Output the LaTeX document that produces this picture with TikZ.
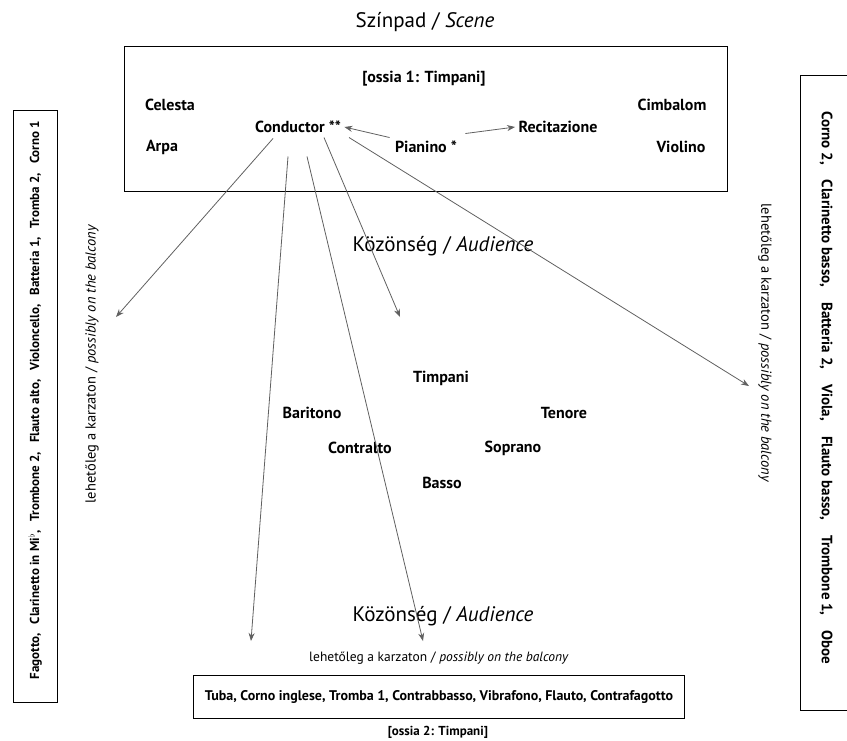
\documentclass[tikz,border=0pt]{standalone}
\usepackage{fontspec}
\setmainfont{PT Sans}
\usetikzlibrary{arrows.meta}
\newcommand{\gapL}{\hspace{9pt}}
\newcommand{\gapR}{\hspace{15pt}}
\tikzset{
  instr/.style={font=\bfseries\fontsize{16}{18}\selectfont},
  side/.style={font=\bfseries\fontsize{13}{15}\selectfont},
  aud/.style={font=\fontsize{21}{24}\selectfont},
  note/.style={font=\fontsize{13.5}{15}\selectfont},
  arr/.style={draw=gray!75!black, line width=0.8pt, -{Stealth[length=8pt,width=6pt]}},
  frame/.style={draw, line width=1pt},
}
\begin{document}
\begin{tikzpicture}[x=1pt,y=-1pt]
  \useasboundingbox (0,0) rectangle (847,740);

  % stage
  \node[font=\fontsize{21}{24}\selectfont] (scene) at (425,22) {Színpad / \textit{Scene}};
  \draw[frame] (124,46) rectangle (727,191);
  \node[instr] (ossia1) at (424,79) {[ossia 1: Timpani]};
  \node[instr] (celesta) at (170,105) {Celesta};
  \node[instr] (cimbalom) at (672,105) {Cimbalom};
  \node[instr] (cond) at (298,127) {Conductor **};
  \node[instr] (recit) at (558,127) {Recitazione};
  \node[instr] (arpa) at (162,147) {Arpa};
  \node[instr] (pian) at (426,147) {Pianino *};
  \node[instr] (violino) at (681,147) {Violino};

  \draw[arr] (pian.north west) ++(-2,0) -- (cond.east);
  \draw[arr] (pian.north east) ++(5,-4) -- (recit.west);

  % audience and singers
  \node[aud] (aud1) at (443,246) {Közönség / \textit{Audience}};
  \node[instr] (timp) at (441,378) {Timpani};
  \node[instr] (barit) at (312,413) {Baritono};
  \node[instr] (tenore) at (564,413) {Tenore};
  \node[instr] (contra) at (360,448) {Contralto};
  \node[instr] (sopr) at (513,448) {Soprano};
  \node[instr] (basso) at (442,483) {Basso};
  \node[aud] (aud2) at (443,616) {Közönség / \textit{Audience}};

  % balconies
  \node[note] (balB) at (439,658) {lehetőleg a karzaton / \textit{possibly on the balcony}};
  \node[frame,minimum width=491pt,minimum height=43pt,font=\bfseries\fontsize{14}{16}\selectfont] (tutti) at (439,697)
    {Tuba, Corno inglese, Tromba 1, Contrabbasso, Vibrafono, Flauto, Contrafagotto};
  \node[font=\bfseries\fontsize{13}{15}\selectfont] (ossia2) at (438,732) {[ossia 2: Timpani]};

  \draw[frame] (13,110) rectangle (57,702);
  \node[side,rotate=90] (left) at (35,400)
    {Fagotto,\gapL Clarinetto in Mi$^\flat$,\gapL Trombone 2,\gapL Flauto alto,\gapL Violoncello,\gapL Batteria 1,\gapL Tromba 2,\gapL Corno 1};
  \node[note,font=\fontsize{14.5}{16}\selectfont,rotate=90] (balL) at (92,364) {lehetőleg a karzaton / \textit{possibly on the balcony}};

  \node[note,font=\fontsize{14.5}{16}\selectfont,rotate=-90] (balR) at (765,343) {lehetőleg a karzaton / \textit{possibly on the balcony}};
  \draw[frame] (800,75) rectangle (870,710);
  \node[side,font=\bfseries\fontsize{15}{17}\selectfont,rotate=-90] (right) at (826,388)
    {Corno 2,\gapR Clarinetto basso,\gapR Batteria 2,\gapR Viola,\gapR Flauto basso,\gapR Trombone 1,\gapR Oboe};

  % conductor arrows
  \coordinate (tL) at (116,317);
  \coordinate (tM) at (400,317);
  \coordinate (tR) at (749,386);
  \coordinate (tBL) at (251,641);
  \coordinate (tBR) at (423,641);
  \draw[arr] (cond.south) ++(-25,2) -- (tL);
  \draw[arr] (cond.south) ++(-10,20) -- (tBL);
  \draw[arr] (cond.south) ++(9,20) -- (tBR);
  \draw[arr] (cond.south) ++(26,1) -- (tM);
  \draw[arr] (cond.south) ++(51,1) -- (tR);
\end{tikzpicture}
\end{document}
